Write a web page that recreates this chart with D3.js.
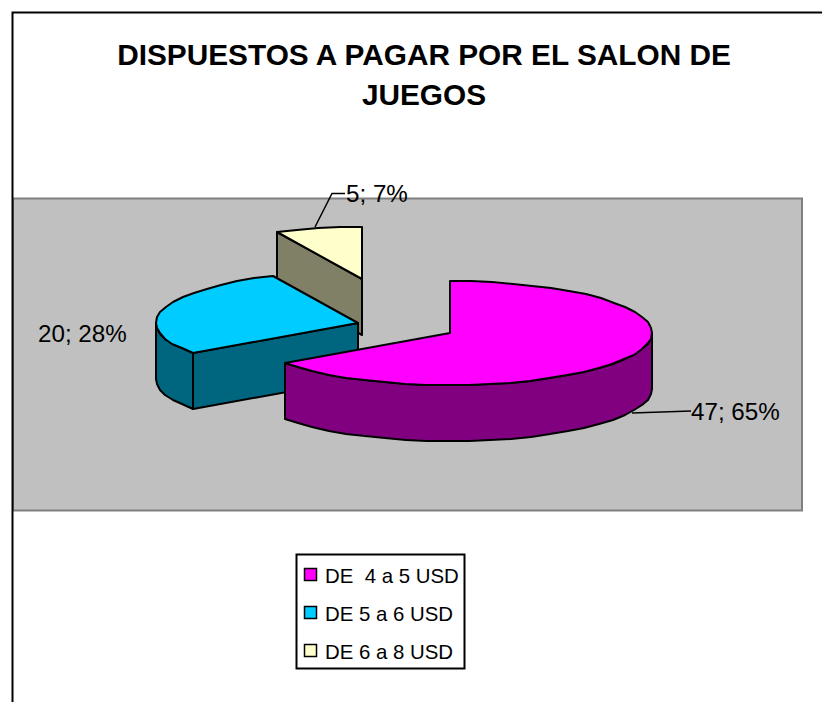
<!DOCTYPE html>
<html><head><meta charset="utf-8">
<script src="https://cdn.jsdelivr.net/npm/d3@7"></script>
<style>html,body{margin:0;padding:0;background:#fff}svg{display:block}</style>
</head><body><svg id="c" width="822" height="702"></svg>
<script>
const titleLines = ["DISPUESTOS A PAGAR POR EL SALON DE", "JUEGOS"];
const categories = ["DE  4 a 5 USD", "DE 5 a 6 USD", "DE 6 a 8 USD"];
const values = [47, 20, 5];
const topColors = ["#FF00FF", "#00CCFF", "#FFFFCC"];
const sideColors = ["#800080", "#006680", "#808066"];

const F = "'Liberation Sans', Arial, sans-serif";
const svg = d3.select("#c");
const RX = 202, RY = 52, DEPTH = 56;
const centers = [[450, 333], [358, 323], [362, 279]];
const STEP = Math.PI / 30;

svg.append("rect").attr("x", 13).attr("y", 198.5).attr("width", 789).attr("height", 312)
  .attr("fill", "#C0C0C0").attr("stroke", "#808080").attr("stroke-width", 2);
svg.append("path").attr("d", "M12.5,702V12.5H822").attr("fill", "none").attr("stroke", "#000").attr("stroke-width", 2);

svg.selectAll("text.title").data(titleLines).join("text").attr("class", "title")
  .attr("x", 424).attr("y", (d, i) => 65 + i * 40).attr("text-anchor", "middle")
  .attr("font-family", F).attr("font-weight", "bold").attr("font-size", 29.8).attr("fill", "#000").text(d => d);

const pie = d3.pie().sort(null).value(d => d)(values);
const total = d3.sum(values);
const pt = (c, a, dy = 0) => [Math.round(c[0] + RX * Math.sin(a)), Math.round(c[1] - RY * Math.cos(a) + dy)];
const arcPts = (c, a0, a1, dy = 0) => {
  const n = Math.max(1, Math.round((a1 - a0) / STEP));
  return d3.range(n + 1).map(i => pt(c, a0 + (a1 - a0) * i / n, dy));
};
const line = d3.line();
const HALF = Math.PI / 2, PI3 = 3 * Math.PI / 2;

[2, 1, 0].forEach(i => {
  const s = pie[i], c = centers[i];
  const g = svg.append("g").attr("stroke", "#000").attr("stroke-width", 2).attr("stroke-linejoin", "round");
  const side = sideColors[i];
  if (i !== 0) {
    const p = pt(c, s.startAngle);
    g.append("path").attr("fill", side).attr("d", line([c, p, [p[0], p[1] + DEPTH], [c[0], c[1] + DEPTH]]) + "Z");
  }
  const a0 = Math.max(s.startAngle, HALF), a1 = Math.min(s.endAngle, PI3);
  if (a1 > a0) {
    g.append("path").attr("fill", side)
      .attr("d", line(arcPts(c, a0, a1).concat(arcPts(c, a0, a1, DEPTH).reverse())) + "Z");
  }
  g.append("path").attr("fill", topColors[i])
    .attr("d", line([c].concat(arcPts(c, s.startAngle, s.endAngle))) + "Z");
});

const leaders = [[[632, 413], [691, 411]], null, [[315, 227], [332, 193.5], [345, 193.5]]];
leaders.forEach(l => { if (l) svg.append("path").attr("d", line(l)).attr("fill", "none").attr("stroke", "#000").attr("stroke-width", 1.5); });

const labelPos = [[691, 420], [38, 342], [346, 202]];
svg.selectAll("text.lab").data(values).join("text").attr("class", "lab")
  .attr("x", (d, i) => labelPos[i][0]).attr("y", (d, i) => labelPos[i][1])
  .attr("font-family", F).attr("font-size", 24.2).attr("fill", "#000")
  .text(d => `${d}; ${Math.round(d / total * 100)}%`);

svg.append("rect").attr("x", 296.5).attr("y", 554.5).attr("width", 168).attr("height", 114)
  .attr("fill", "#fff").attr("stroke", "#000").attr("stroke-width", 2);
const rowY = d3.scalePoint().domain(categories).range([574.5, 650.5]);
const lg = svg.selectAll("g.lg").data(categories).join("g").attr("class", "lg");
lg.append("rect").attr("x", 304.5).attr("y", d => rowY(d) - 6).attr("width", 12).attr("height", 12)
  .attr("fill", (d, i) => topColors[i]).attr("stroke", "#000").attr("stroke-width", 1.5);
lg.append("text").attr("x", 325).attr("y", d => rowY(d) + 8).attr("font-family", F).attr("font-size", 20.4)
  .style("white-space", "pre").text(d => d);
</script></body></html>
